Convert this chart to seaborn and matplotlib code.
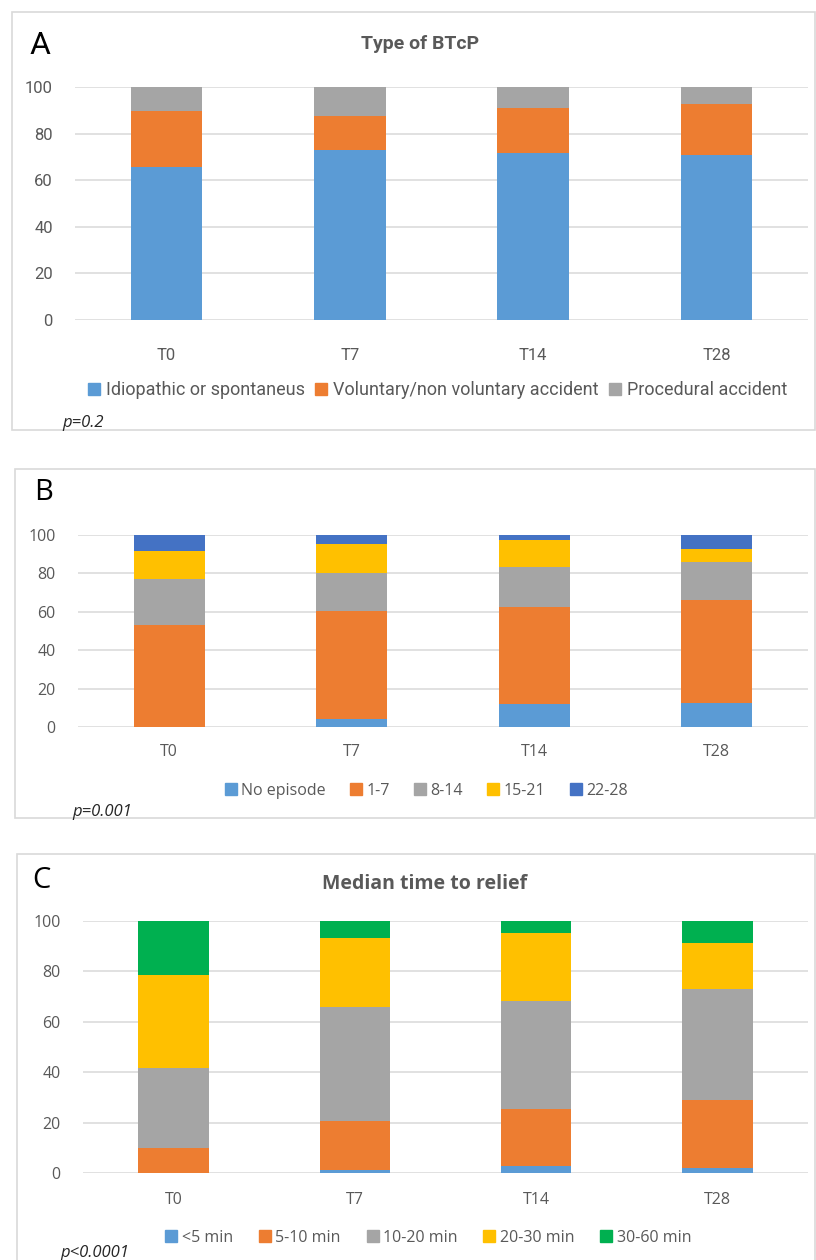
#!/usr/bin/env python3
"""
Stacked percentage bars: type of BTcP, number of episodes, median time to relief.
"""

import numpy as np
import pandas as pd
import matplotlib
matplotlib.use("Agg")
import matplotlib.pyplot as plt
from matplotlib import font_manager
from matplotlib.patches import Rectangle
from matplotlib.lines import Line2D
import seaborn as sns

# ---- data (percent of patients) ----
timepoints = ["T0", "T7", "T14", "T28"]

type_labels = ["Idiopathic or spontaneus", "Voluntary/non voluntary accident", "Procedural accident"]
type_idiopathic = [65.5, 73.0, 71.8, 70.9]
type_voluntary = [24.2, 14.4, 19.2, 21.8]
type_procedural = [10.3, 12.6, 9.0, 7.3]

episode_labels = ["No episode", "1-7", "8-14", "15-21", "22-28"]
ep_none = [0.0, 4.3, 12.0, 12.6]
ep_1_7 = [53.2, 56.1, 50.3, 53.7]
ep_8_14 = [23.7, 19.8, 21.0, 19.4]
ep_15_21 = [14.8, 15.3, 14.1, 6.9]
ep_22_28 = [8.3, 4.5, 2.6, 7.4]

relief_labels = ["<5 min", "5-10 min", "10-20 min", "20-30 min", "30-60 min"]
rel_lt5 = [0.0, 1.3, 2.8, 2.0]
rel_5_10 = [9.8, 19.4, 22.5, 27.0]
rel_10_20 = [31.8, 45.3, 42.9, 44.1]
rel_20_30 = [36.9, 27.4, 27.2, 18.1]
rel_30_60 = [21.5, 6.6, 4.6, 8.8]

p_values = ["p=0.2", "p=0.001", "p<0.0001"]

BLUE = "#5B9BD5"
ORANGE = "#ED7D31"
GRAY = "#A5A5A5"
YELLOW = "#FFC000"
DARKBLUE = "#4472C4"
GREEN = "#00B050"

W, H = 816, 1260

installed = {f.name for f in font_manager.fontManager.ttflist}
narrow = "Liberation Sans Narrow" if "Liberation Sans Narrow" in installed else "Roboto"
body = "Open Sans" if "Open Sans" in installed else "DejaVu Sans"

sns.set_theme(style="white")
plt.rcParams["font.family"] = [body, "DejaVu Sans"]

fig = plt.figure(figsize=(W / 100, H / 100), dpi=100)


def px_rect(left, top, right, bottom):
    return [left / W, 1 - bottom / H, (right - left) / W, (bottom - top) / H]


def fx(x):
    return x / W


def fy(y):
    return 1 - y / H


def stacked(ax, series, colors, font, tick_pad):
    df = pd.DataFrame({"tp": timepoints})
    cum = np.cumsum(np.array(series), axis=0)
    # draw the tallest cumulative first, then overlay the lower segments
    for i in range(len(series) - 1, -1, -1):
        df["val"] = cum[i]
        sns.barplot(data=df, x="tp", y="val", color=colors[i], width=0.39,
                    saturation=1, ax=ax, zorder=2, linewidth=0, edgecolor="none")
    ax.set_ylim(0, 100)
    ax.set_xlim(-0.5, 3.5)
    ax.set_yticks(range(0, 101, 20))
    ax.grid(axis="y", color="#D9D9D9", linewidth=1.1, zorder=0)
    ax.set_axisbelow(True)
    for s in ax.spines.values():
        s.set_visible(False)
    ax.set_xlabel("")
    ax.set_ylabel("")
    ax.tick_params(axis="y", length=0, pad=tick_pad[0], labelsize=12, labelcolor="#595959")
    ax.tick_params(axis="x", length=0, pad=tick_pad[1], labelsize=12, labelcolor="#595959")
    for lab in ax.get_xticklabels() + ax.get_yticklabels():
        lab.set_family([font, "DejaVu Sans"])


def legend(labels, colors, cx, cy, font, size, spacing):
    handles = [Line2D([], [], marker="s", linestyle="", markersize=8,
                      markerfacecolor=c, markeredgecolor=c) for c in colors]
    fig.legend(handles, labels, loc="center", bbox_to_anchor=(fx(cx), fy(cy)),
               ncol=len(labels), frameon=False, handletextpad=0.25,
               columnspacing=spacing, handlelength=0.8,
               prop={"family": [font, "DejaVu Sans"], "size": size},
               labelcolor="#595959")


# ---- panel frames ----
for (l, t, r, b) in [(12, 12, 815, 430), (15, 469, 815, 818), (17, 854, 815, 1262)]:
    fig.patches.append(Rectangle((fx(l), fy(b)), fx(r - l), (b - t) / H,
                                 transform=fig.transFigure, fill=False,
                                 edgecolor="#D9D9D9", linewidth=1.2))

# ---- A ----
axA = fig.add_axes(px_rect(75, 87, 808, 320))
stacked(axA, [type_idiopathic, type_voluntary, type_procedural],
        [BLUE, ORANGE, GRAY], narrow, (16, 20))
fig.text(fx(30), fy(46), "A", fontsize=23, color="black", va="center", ha="left",
         family=[narrow, "DejaVu Sans"])
fig.text(fx(420), fy(44), "Type of BTcP", fontsize=14, fontweight="bold",
         color="#595959", ha="center", va="center", family=[narrow, "DejaVu Sans"])
legend(type_labels, [BLUE, ORANGE, GRAY], 437, 390, narrow, 13, 0.5)
fig.text(fx(62), fy(423), p_values[0], fontsize=12, style="italic",
         color="#262626", ha="left", va="center")

# ---- B ----
axB = fig.add_axes(px_rect(78, 535, 808, 727))
stacked(axB, [ep_none, ep_1_7, ep_8_14, ep_15_21, ep_22_28],
        [BLUE, ORANGE, GRAY, YELLOW, DARKBLUE], body, (16, 12))
for lab in axB.get_xticklabels() + axB.get_yticklabels():
    lab.set_fontsize(11.5)
fig.text(fx(34), fy(493), "B", fontsize=21, color="black", va="center", ha="left")
legend(episode_labels, [BLUE, ORANGE, GRAY, YELLOW, DARKBLUE], 426, 791, body, 11.5, 1.5)
fig.text(fx(72), fy(812), p_values[1], fontsize=12, style="italic",
         color="#262626", ha="left", va="center")

# ---- C ----
axC = fig.add_axes(px_rect(83, 921, 808, 1173))
stacked(axC, [rel_lt5, rel_5_10, rel_10_20, rel_20_30, rel_30_60],
        [BLUE, ORANGE, GRAY, YELLOW, GREEN], body, (16, 14))
for lab in axC.get_xticklabels() + axC.get_yticklabels():
    lab.set_fontsize(11.5)
fig.text(fx(32), fy(880), "C", fontsize=21, color="black", va="center", ha="left")
fig.text(fx(425), fy(884), "Median time to relief", fontsize=14, fontweight="bold",
         color="#595959", ha="center", va="center")
legend(relief_labels, [BLUE, ORANGE, GRAY, YELLOW, GREEN], 428, 1238, body, 11.5, 1.6)
fig.text(fx(60), fy(1253), p_values[2], fontsize=12, style="italic",
         color="#262626", ha="left", va="center")

fig.savefig("out.png", dpi=100)
